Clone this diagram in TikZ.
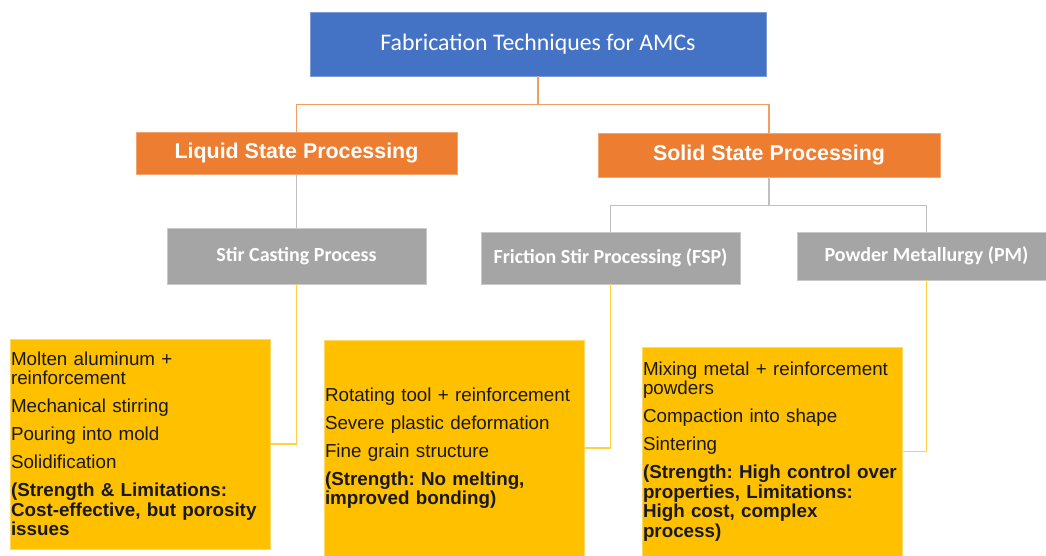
\documentclass[tikz,border=0pt]{standalone}
\usepackage{fontspec}
\setmainfont{Liberation Sans}
\newfontfamily\calibri{Carlito}
\usetikzlibrary{positioning}

\definecolor{amcblue}{HTML}{4472C4}
\definecolor{amcorange}{HTML}{ED7D31}
\definecolor{amcgray}{HTML}{A5A5A5}
\definecolor{amcyellow}{HTML}{FFC000}

\begin{document}
\frenchspacing
\begin{tikzpicture}[
                x=1pt, y=-1pt,
                title/.style={rectangle, minimum width=456pt, minimum height=64pt, fill=amcblue, draw=amcblue!70!white, text=white, font=\calibri\fontsize{23.8}{28}\selectfont},
                stage/.style={rectangle, minimum height=42pt, fill=amcorange, draw=amcorange!70!white, text=white, font=\bfseries\fontsize{21.4}{25}\selectfont},
                method/.style={rectangle, minimum width=259pt, fill=amcgray, draw=amcgray!60!white, text=white, font=\calibri\bfseries\fontsize{20}{24}\selectfont},
                detail/.style={rectangle, minimum width=260pt, text width=258pt, inner xsep=1pt, inner ysep=0pt, fill=amcyellow, draw=amcyellow!60!white, align=left, text=black!90, font=\fontsize{18.8}{19.5}\selectfont},
                toplink/.style={amcorange!75!white, line width=1.2pt},
                midlink/.style={amcgray!70!white, line width=1.2pt},
                botlink/.style={amcyellow!75!white, line width=1.2pt}
            ]
            
                \useasboundingbox (0,0) rectangle (1046,556);
                \clip (0,0) rectangle (1046,556);
            
                % Nodes
                \node (root) [title] at (538,44) {Fabrication Techniques for AMCs};
                \node (liquid) [stage, minimum width=321pt] at (296.5,153.5) {Liquid State Processing};
                \node (solid) [stage, minimum width=342pt, minimum height=44pt] at (769,155) {Solid State Processing};
                
                \node (stir) [method, minimum height=56pt] at (296.5,256) {Stir Casting Process};
                \node (fsp) [method, minimum height=52pt] at (610.5,258) {Friction Stir Processing (FSP)};
                \node (pm) [method, minimum height=48pt] at (926.5,256) {Powder Metallurgy (PM)};
                
                \node (stirsteps) [detail, minimum height=210pt] at (140,444) {Molten aluminum +\\ reinforcement\\[8.5pt] Mechanical stirring\\[8.5pt] Pouring into mold\\[8.5pt] Solidification\\[8.5pt] \textbf{(Strength \& Limitations:}\\ \textbf{Cost-effective, but porosity}\\ \textbf{issues}};
                \node (fspsteps) [detail, minimum height=216pt] at (454,448) {Rotating tool + reinforcement\\[8.5pt] Severe plastic deformation\\[8.5pt] Fine grain structure\\[8.5pt] \textbf{(Strength: No melting,}\\ \textbf{improved bonding)}};
                \node (pmsteps) [detail, minimum height=209pt] at (772,451.5) {Mixing metal + reinforcement\\ powders\\[8.5pt] Compaction into shape\\[8.5pt] Sintering\\[8.5pt] \textbf{(Strength: High control over}\\ \textbf{properties, Limitations:}\\ \textbf{High cost, complex}\\ \textbf{process)}};
                
                % Connectors
                \draw [toplink] (root.south) -- ++(0,28) -| (liquid.north);
                \draw [toplink] (root.south) -- ++(0,28) -| (solid.north);
                \draw [midlink] (liquid) -- (stir);
                \draw [midlink] (solid.south) -- ++(0,28) -| (fsp.north);
                \draw [midlink] (solid.south) -- ++(0,28) -| (pm.north);
                \draw [botlink] (stir.south) |- (stirsteps.east);
                \draw [botlink] (fsp.south) |- (fspsteps.east);
                \draw [botlink] (pm.south) |- (pmsteps.east);
            
            \end{tikzpicture}
\end{document}
